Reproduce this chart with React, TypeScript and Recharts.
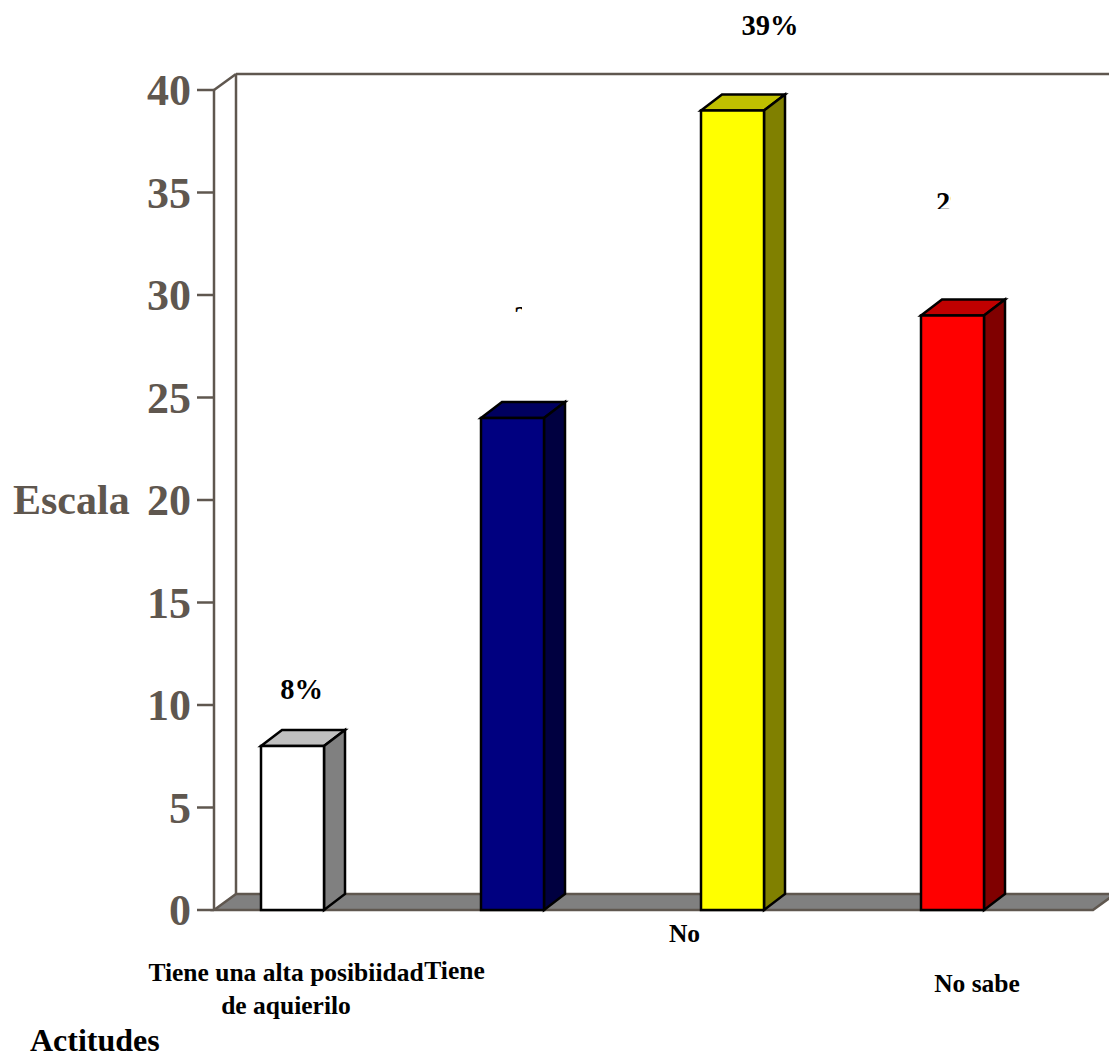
import { Bar, BarChart, LabelList, ReferenceArea, XAxis, YAxis } from "recharts";

const categories = ["Tiene una alta posibiidad|de aquierilo", "Tiene", "No", "No sabe"];
const values = [8, 24, 39, 29];
const valueLabels = ["8%", "24%", "39%", "29%"];
const yTicks = [0, 5, 10, 15, 20, 25, 30, 35, 40];

const frontColors = ["#ffffff", "#000080", "#ffff00", "#ff0000"];
const topColors = ["#c0c0c0", "#000060", "#c0c000", "#c00000"];
const sideColors = ["#808080", "#000040", "#808000", "#800000"];

const data = categories.map((name, i) => ({ name, value: values[i] }));

const axisColor = "#5f574f";
const font = "'Liberation Serif', 'Times New Roman', serif";
const depthX = 21;
const depthY = 16;
const axisOffset = 31.5; // y axis sits right of the plot's left edge

// where each label landed in the original, relative to the bar top centre / tick
const labelPos = [
  { dx: 9, dy: -47 },
  { dx: 30, dy: -92 },
  { dx: 37.5, dy: -76 },
  { dx: 12, dy: -104 },
];
// two of the value labels are cut off in the original
const labelClip = [
  null,
  { x: 514, y: 304, width: 8, height: 9 },
  null,
  { x: 930, y: 185, width: 21, height: 24 },
];
const tickPos = [
  { dx: -6.5, y: 981 },
  { dx: -58, y: 979 },
  { dx: -48, y: 942 },
  { dx: 24.5, y: 992 },
];

function Box3D(props: any) {
  const { x, y, width, height, index } = props;
  const top = `${x},${y} ${x + depthX},${y - depthY} ${x + width + depthX},${y - depthY} ${x + width},${y}`;
  const side = `${x + width},${y} ${x + width + depthX},${y - depthY} ${x + width + depthX},${y + height - depthY} ${x + width},${y + height}`;
  return (
    <g stroke="#000" strokeWidth={2.5} strokeLinejoin="miter">
      <polygon points={top} fill={topColors[index]} />
      <polygon points={side} fill={sideColors[index]} />
      <rect x={x} y={y} width={width} height={height} fill={frontColors[index]} />
    </g>
  );
}

function Frame(props: any) {
  const { x, y, width, height } = props;
  const ax = x + axisOffset;
  const bottom = y + height;
  const right = x + width + 52.5;
  return (
    <g stroke={axisColor} strokeWidth={2.5} fill="none">
      <polygon
        points={`${ax},${bottom} ${ax + depthX + 1},${bottom - depthY} ${right},${bottom - depthY} ${right - depthX - 1},${bottom}`}
        fill="#808080"
      />
      <line x1={ax + depthX + 1} y1={y - depthY} x2={ax + depthX + 1} y2={bottom - depthY} />
      <line x1={ax + depthX + 1} y1={y - depthY} x2={right} y2={y - depthY} />
      <line x1={ax} y1={y} x2={ax + depthX + 1} y2={y - depthY} />
      <line x1={ax} y1={y} x2={ax} y2={bottom} />
    </g>
  );
}

function YTick(props: any) {
  const { y, payload } = props;
  return (
    <g>
      <line x1={197} y1={y} x2={214} y2={y} stroke={axisColor} strokeWidth={2.5} />
      <text x={191} y={y + 15} textAnchor="end" fontFamily={font} fontWeight="bold" fontSize={44} fill={axisColor}>
        {payload.value}
      </text>
    </g>
  );
}

function XTick(props: any) {
  const { x, payload, index } = props;
  const pos = tickPos[index];
  const lines = String(payload.value).split("|");
  return (
    <text textAnchor="middle" fontFamily={font} fontWeight="bold" fontSize={25.5} fill="#000">
      {lines.map((t, i) => (
        <tspan key={i} x={x + pos.dx} y={pos.y + i * 33}>
          {t}
        </tspan>
      ))}
    </text>
  );
}

function ValueLabel(props: any) {
  const { x, y, width, index } = props;
  const pos = labelPos[index];
  const clip = labelClip[index];
  const id = `label-clip-${index}`;
  return (
    <g>
      {clip && (
        <defs>
          <clipPath id={id}>
            <rect {...clip} />
          </clipPath>
        </defs>
      )}
      <text
        x={x + width / 2 + pos.dx}
        y={y + pos.dy}
        textAnchor="middle"
        fontFamily={font}
        fontWeight="bold"
        fontSize={28.5}
        fill="#000"
        clipPath={clip ? `url(#${id})` : undefined}
      >
        {valueLabels[index]}
      </text>
    </g>
  );
}

export default function App() {
  return (
    <div style={{ position: "absolute", left: 0, top: 0, width: 1109, height: 1055, background: "#fff" }}>
      <BarChart
        width={1109}
        height={1055}
        data={data}
        margin={{ top: 90, right: 46.5, bottom: 115, left: 0 }}
        barCategoryGap={78.5}
      >
        <ReferenceArea y1={0} y2={40} shape={<Frame />} ifOverflow="visible" />
        <XAxis dataKey="name" axisLine={false} tickLine={false} tick={<XTick />} interval={0} />
        <YAxis
          width={182.5}
          domain={[0, 40]}
          ticks={yTicks}
          axisLine={false}
          tickLine={false}
          tick={<YTick />}
          interval={0}
        />
        <Bar dataKey="value" isAnimationActive={false} shape={<Box3D />}>
          <LabelList dataKey="value" content={<ValueLabel />} />
        </Bar>
        <text x={13} y={514} fontFamily={font} fontWeight="bold" fontSize={42} fill={axisColor}>
          Escala
        </text>
        <text x={30} y={1051} fontFamily={font} fontWeight="bold" fontSize={32} fill="#000">
          Actitudes
        </text>
      </BarChart>
    </div>
  );
}
